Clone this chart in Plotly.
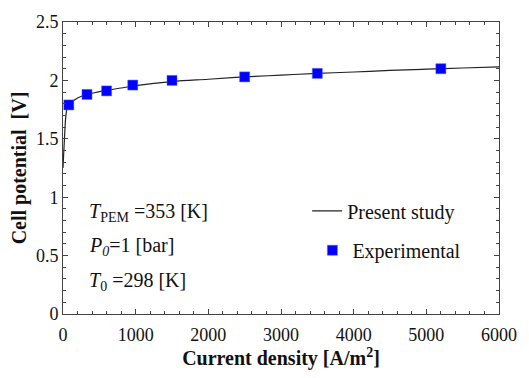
import plotly.graph_objects as go

# Model curve (Present study)
model_j = [0, 10, 20, 30, 40, 55, 70, 100, 150, 200, 300, 400, 600, 800, 1000,
           1500, 2000, 2500, 3000, 3500, 4000, 4500, 5000, 5500, 6000]
model_v = [1.25, 1.38, 1.50, 1.62, 1.70, 1.76, 1.785, 1.805, 1.83, 1.85, 1.875, 1.89,
           1.915, 1.935, 1.955, 1.99, 2.01, 2.03, 2.045, 2.06, 2.072, 2.085, 2.096, 2.106, 2.116]

# Experimental data
exp_j = [80, 330, 600, 960, 1500, 2500, 3500, 5200]
exp_v = [1.79, 1.88, 1.91, 1.96, 2.00, 2.03, 2.06, 2.10]

FONT = "Liberation Serif"

fig = go.Figure()
fig.add_trace(go.Scatter(x=model_j, y=model_v, mode="lines", name="Present study",
                         line=dict(color="#222222", width=1.2, shape="spline"),
                         legend="legend"))
fig.add_trace(go.Scatter(x=exp_j, y=exp_v, mode="markers", name="Experimental",
                         marker=dict(symbol="square", size=10, color="#0000ff",
                                     line=dict(color="#4a5cff", width=0.5)),
                         legend="legend2"))

axis_common = dict(showgrid=False, zeroline=False, showline=True, linecolor="#444444",
                   linewidth=1, mirror="allticks", ticks="inside", ticklen=5,
                   tickcolor="#444444",
                   tickfont=dict(family=FONT, size=18, color="#111111"))

fig.update_xaxes(range=[0, 6000], tick0=0, dtick=1000, ticklabelstandoff=4,
                 minor=dict(ticks="inside", dtick=200, ticklen=3, tickcolor="#444444"),
                 title=dict(text="<b>Current density [A/m<sup>2</sup>]</b>",
                            font=dict(family=FONT, size=20, color="#111111"), standoff=5),
                 **axis_common)
fig.update_yaxes(range=[0, 2.5], tick0=0, dtick=0.5,
                 minor=dict(ticks="inside", dtick=0.1, ticklen=3, tickcolor="#444444"),
                 title=dict(text="<b>Cell potential  [V]</b>",
                            font=dict(family=FONT, size=20, color="#111111"), standoff=3),
                 **axis_common)

legend_font = dict(family=FONT, size=20, color="#111111")
fig.update_layout(
    width=529, height=378,
    margin=dict(l=63, r=27, t=19, b=64),
    paper_bgcolor="white", plot_bgcolor="white",
    legend=dict(x=0.56, y=0.42, xanchor="left", yanchor="top", font=legend_font,
                bgcolor="rgba(0,0,0,0)", itemwidth=30),
    legend2=dict(x=0.572, y=0.285, xanchor="left", yanchor="top", font=legend_font,
                 bgcolor="rgba(0,0,0,0)", itemwidth=30),
    showlegend=True,
)

ann_font = dict(family=FONT, size=20, color="#111111")
fig.add_annotation(x=0.055, y=0.347, xref="paper", yref="paper", xanchor="left", yanchor="middle",
                   text="<i>T</i><sub>PEM</sub> =353 [K]", showarrow=False, font=ann_font)
fig.add_annotation(x=0.055, y=0.23, xref="paper", yref="paper", xanchor="left", yanchor="middle",
                   text="<i>P<sub>0</sub></i>=1 [bar]", showarrow=False, font=ann_font)
fig.add_annotation(x=0.055, y=0.11, xref="paper", yref="paper", xanchor="left", yanchor="middle",
                   text="<i>T</i><sub>0</sub> =298 [K]", showarrow=False, font=ann_font)

fig.write_html("out.html")
